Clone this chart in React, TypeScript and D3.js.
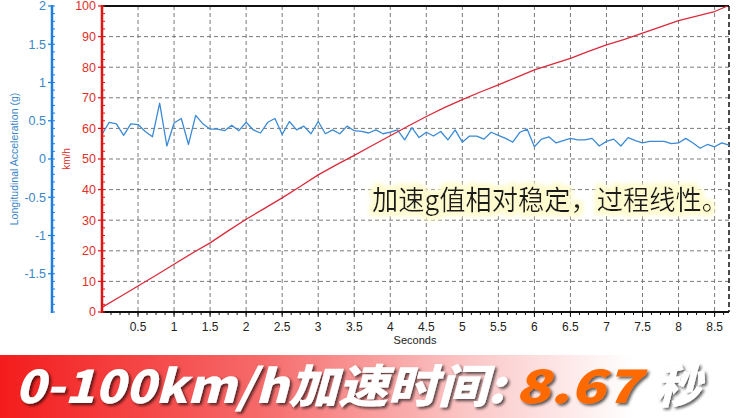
import * as d3 from 'd3';

// speed trace (km/h) against time (s)
const speedTime = [0, 0.25, 0.5, 0.75, 1, 1.25, 1.5, 1.75, 2, 2.25, 2.5, 2.75, 3, 3.25, 3.5, 3.75, 4, 4.25, 4.5, 4.75, 5, 5.25, 5.5, 5.75, 6, 6.25, 6.5, 6.75, 7, 7.25, 7.5, 7.75, 8, 8.25, 8.5, 8.68];
const speedKmh = [1.5, 5, 8.5, 12, 15.6, 19.2, 22.6, 26.5, 30.3, 33.8, 37.3, 41, 44.8, 48.1, 51.2, 54.4, 57.6, 60.8, 63.9, 66.8, 69.4, 71.9, 74.2, 76.7, 79.1, 81, 82.9, 85.2, 87.3, 89.1, 91.1, 93.2, 95.2, 96.7, 98.2, 100];

// longitudinal acceleration (g), sampled every 0.1 s
const accelTime = [
  0, 0.1, 0.2, 0.3, 0.4, 0.5, 0.6, 0.7, 0.8, 0.9,
  1, 1.1, 1.2, 1.3, 1.4, 1.5, 1.6, 1.7, 1.8, 1.9,
  2, 2.1, 2.2, 2.3, 2.4, 2.5, 2.6, 2.7, 2.8, 2.9,
  3, 3.1, 3.2, 3.3, 3.4, 3.5, 3.6, 3.7, 3.8, 3.9,
  4, 4.1, 4.2, 4.3, 4.4, 4.5, 4.6, 4.7, 4.8, 4.9,
  5, 5.1, 5.2, 5.3, 5.4, 5.5, 5.6, 5.7, 5.8, 5.9,
  6, 6.1, 6.2, 6.3, 6.4, 6.5, 6.6, 6.7, 6.8, 6.9,
  7, 7.1, 7.2, 7.3, 7.4, 7.5, 7.6, 7.7, 7.8, 7.9,
  8, 8.1, 8.2, 8.3, 8.4, 8.5, 8.6, 8.7,
];
const accelG = [
  0.32, 0.48, 0.46, 0.31, 0.46, 0.45, 0.36, 0.29, 0.73, 0.17,
  0.47, 0.53, 0.19, 0.57, 0.46, 0.39, 0.39, 0.37, 0.44, 0.37,
  0.48, 0.38, 0.34, 0.48, 0.53, 0.32, 0.49, 0.38, 0.43, 0.33,
  0.49, 0.33, 0.38, 0.33, 0.43, 0.37, 0.36, 0.34, 0.38, 0.33,
  0.35, 0.38, 0.25, 0.41, 0.28, 0.35, 0.30, 0.36, 0.25, 0.38,
  0.22, 0.30, 0.30, 0.26, 0.35, 0.31, 0.27, 0.22, 0.35, 0.39,
  0.16, 0.26, 0.29, 0.21, 0.24, 0.27, 0.25, 0.25, 0.27, 0.17,
  0.23, 0.26, 0.17, 0.28, 0.24, 0.21, 0.23, 0.23, 0.23, 0.20,
  0.21, 0.27, 0.21, 0.14, 0.19, 0.16, 0.21, 0.18,
];

const secondTicks = [0.5, 1, 1.5, 2, 2.5, 3, 3.5, 4, 4.5, 5, 5.5, 6, 6.5, 7, 7.5, 8, 8.5];
const kmhTicks = [0, 10, 20, 30, 40, 50, 60, 70, 80, 90, 100];
const gTicks = [2, 1.5, 1, 0.5, 0, -0.5, -1, -1.5];

const note = '加速g值相对稳定，过程线性。';
const headline = '0-100km/h加速时间:';
const headlineValue = '8.67';
const headlineUnit = '秒';

const App = () => {
  const width = 744;
  const height = 418;
  const font = '"Liberation Sans", Arial, sans-serif';
  const cjk = '"Noto Sans CJK SC", "Noto Sans", sans-serif';

  const xScale = d3.scaleLinear().domain([0, 8.7]).range([102, 729]);
  const ySpeed = d3.scaleLinear().domain([0, 100]).range([312, 6]);
  const yG = d3.scaleLinear().domain([-2, 2]).range([312, 6]);

  const speedLine = d3.line<number>()
    .x((d, i) => xScale(speedTime[i]))
    .y(d => ySpeed(d));
  const accelLine = d3.line<number>()
    .x((d, i) => xScale(accelTime[i]))
    .y(d => yG(d));

  const minorX = d3.range(0.125, 8.7, 0.125);
  const minorKmh = d3.range(0, 100.1, 2.5);
  const minorG = d3.range(-2, 2.01, 0.1);

  const [x0, x1] = xScale.range();
  const [yBottom, yTop] = ySpeed.range();

  return (
    <svg width={width} height={height} style={{ position: 'absolute', left: 0, top: 0, background: '#fff' }}>
      <defs>
        <linearGradient id="banner" x1="0" x2="1" y1="0" y2="0">
          <stop offset="0" stopColor="#f41c1c" />
          <stop offset="0.35" stopColor="#f66a6a" />
          <stop offset="0.62" stopColor="#fbc4c4" />
          <stop offset="0.85" stopColor="#ffffff" />
        </linearGradient>
        <filter id="shadow" x="-10%" y="-20%" width="120%" height="150%">
          <feDropShadow dx="2" dy="2" stdDeviation="1.5" floodColor="#000" floodOpacity="0.65" />
        </filter>
        <filter id="glow" x="-5%" y="-30%" width="110%" height="160%">
          <feMorphology in="SourceAlpha" operator="dilate" radius="3" result="fat" />
          <feGaussianBlur in="fat" stdDeviation="2.5" result="blur" />
          <feFlood floodColor="#fffbd0" />
          <feComposite in2="blur" operator="in" result="halo" />
          <feMerge>
            <feMergeNode in="halo" />
            <feMergeNode in="halo" />
            <feMergeNode in="SourceGraphic" />
          </feMerge>
        </filter>
      </defs>

      {/* grid */}
      {secondTicks.map(s => (
        <line key={'gx' + s} x1={xScale(s)} x2={xScale(s)} y1={yTop} y2={yBottom}
          stroke="#7a7a7a" strokeWidth={1} strokeDasharray="4,3" />
      ))}
      {kmhTicks.filter(k => k > 0 && k < 100).map(k => (
        <line key={'gy' + k} x1={x0} x2={x1} y1={ySpeed(k)} y2={ySpeed(k)}
          stroke="#7a7a7a" strokeWidth={1} strokeDasharray="4,3" />
      ))}
      <line x1={x0} x2={x1} y1={yTop} y2={yTop} stroke="#111" strokeWidth={2} />
      <line x1={x1} x2={x1} y1={yTop} y2={yBottom} stroke="#111" strokeWidth={1.5} strokeDasharray="5,3" />

      {/* series */}
      <path d={accelLine(accelG) ?? ''} fill="none" stroke="#3b8ad6" strokeWidth={1.3} strokeLinejoin="round" />
      <path d={speedLine(speedKmh) ?? ''} fill="none" stroke="#dc2a3a" strokeWidth={1.3} strokeLinejoin="round" />

      {/* x axis */}
      <line x1={x0} x2={x1} y1={yBottom} y2={yBottom} stroke="#111" strokeWidth={2} />
      {minorX.map(s => (
        <line key={'mx' + s} x1={xScale(s)} x2={xScale(s)} y1={yBottom} y2={yBottom + 3} stroke="#111" strokeWidth={1} />
      ))}
      {secondTicks.map(s => (
        <g key={'tx' + s} transform={`translate(${xScale(s)},${yBottom})`}>
          <line y1={0} y2={5} stroke="#111" strokeWidth={1} />
          <text y={19} textAnchor="middle" fontSize={12} fontFamily={font} fill="#222">{s}</text>
        </g>
      ))}
      <text x={415} y={344} textAnchor="middle" fontSize={11} fontFamily={font} fill="#222">Seconds</text>

      {/* speed axis */}
      <line x1={x0} x2={x0} y1={yTop - 1} y2={yBottom + 1} stroke="#e01414" strokeWidth={2.5} />
      {minorKmh.map(k => (
        <line key={'mk' + k} x1={x0} x2={x0 + 3} y1={ySpeed(k)} y2={ySpeed(k)} stroke="#e01414" strokeWidth={1} />
      ))}
      {kmhTicks.map(k => (
        <g key={'tk' + k} transform={`translate(${x0},${ySpeed(k)})`}>
          <line x1={-4} x2={0} stroke="#e01414" strokeWidth={1.2} />
          <text x={-6} dy="0.35em" textAnchor="end" fontSize={12.5} fontFamily={font} fill="#e0302a">{k}</text>
        </g>
      ))}
      <text transform={`translate(70,${ySpeed(50)}) rotate(-90)`} textAnchor="middle" fontSize={10}
        fontFamily={font} fill="#e0302a">km/h</text>

      {/* acceleration axis */}
      <line x1={52} x2={52} y1={yG(2) - 1} y2={yG(-2) + 1} stroke="#1e7ee0" strokeWidth={2.5} />
      {minorG.map(g => (
        <line key={'mg' + g.toFixed(1)} x1={52} x2={55} y1={yG(g)} y2={yG(g)} stroke="#1e7ee0" strokeWidth={1} />
      ))}
      {gTicks.map(g => (
        <g key={'tg' + g} transform={`translate(52,${yG(g)})`}>
          <line x1={-4} x2={0} stroke="#1e7ee0" strokeWidth={1.2} />
          <text x={-6} dy="0.35em" textAnchor="end" fontSize={12.5} fontFamily={font} fill="#3b86c8">{g}</text>
        </g>
      ))}
      <text transform={`translate(18,${yG(0)}) rotate(-90)`} textAnchor="middle" fontSize={10.5}
        fontFamily={font} fill="#3b86c8">Longitudinal Acceleration (g)</text>

      {/* annotation */}
      <text x={372} y={210} fontSize={27} fontFamily={cjk} fill="#1a1a1a" filter="url(#glow)"
        textLength={356} lengthAdjust="spacingAndGlyphs">{note}</text>

      {/* banner */}
      <rect x={0} y={355} width={width} height={height - 355} fill="url(#banner)" />
      <g fontFamily={cjk} fontWeight={900} fontStyle="italic" fontSize={46} filter="url(#shadow)">
        <text x={15} y={403} fill="#fff" textLength={490} lengthAdjust="spacingAndGlyphs">{headline}</text>
        <text x={515} y={403} fill="#ff6a00" textLength={125} lengthAdjust="spacingAndGlyphs">{headlineValue}</text>
        <text x={655} y={403} fill="#fff" textLength={46} lengthAdjust="spacingAndGlyphs">{headlineUnit}</text>
      </g>
    </svg>
  );
};

export default App;
